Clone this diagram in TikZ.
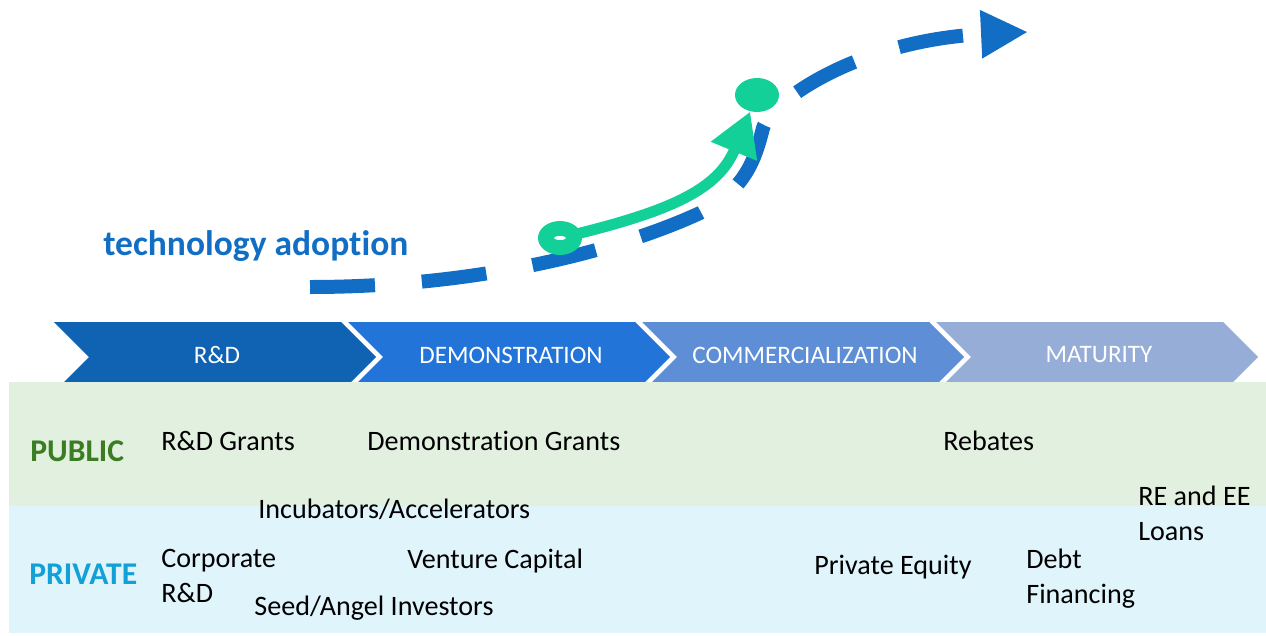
\documentclass[tikz,border=0pt]{standalone}
\usepackage{fontspec}
\setmainfont[Ligatures=NoCommon]{Carlito}
\usetikzlibrary{arrows.meta,shapes.geometric}
\definecolor{rdblue}{RGB}{16,99,179}
\definecolor{demoblue}{RGB}{34,116,216}
\definecolor{commblue}{RGB}{93,142,214}
\definecolor{matblue}{RGB}{150,173,216}
\definecolor{publicbg}{RGB}{226,240,224}
\definecolor{privatebg}{RGB}{224,244,252}
\definecolor{curveblue}{RGB}{17,110,196}
\definecolor{adoptgreen}{RGB}{18,208,152}
\definecolor{publicgreen}{RGB}{58,125,34}
\definecolor{privatecyan}{RGB}{18,160,215}
\tikzset{
  phase/.style={text=white,inner sep=0pt,font=\fontsize{14.3}{17}\selectfont},
  fund/.style={anchor=base west,inner sep=0pt,align=left,font=\fontsize{16}{19.5}\selectfont},
  sector/.style={anchor=base west,inner sep=0pt,font=\fontsize{18}{22}\selectfont\bfseries},
  adopttitle/.style={anchor=base west,inner sep=0pt,text=curveblue,font=\fontsize{20.2}{24}\selectfont\bfseries},
  adoptcurve/.style={draw=curveblue,line width=0.28cm,dash pattern=on 1.3cm off 0.94cm,
    -{Triangle[length=0.94cm,width=0.9cm]}},
  adoptarrow/.style={draw=adoptgreen,line width=0.22cm,-{Triangle[length=0.86cm,width=0.94cm]}},
  adoptdot/.style={ellipse,fill=adoptgreen,minimum width=0.88cm,minimum height=0.68cm,inner sep=0pt}
}
\begin{document}
\begin{tikzpicture}[x=0.02cm,y=-0.02cm]
\useasboundingbox (0,0) rectangle (1266,635);

% stages
\foreach \i/\stage/\col in {0/R\&D/rdblue,1/DEMONSTRATION/demoblue,2/COMMERCIALIZATION/commblue,3/MATURITY/matblue}{
  \pgfmathsetmacro\xl{54+294*\i}
  \fill[\col] (\xl,322) -- ++(287,0) -- ++(35,35) -- ++(-35,35) -- ++(-287,0) -- ++(35,-35) -- cycle;
  \node[phase] (stage\i) at (\xl+163,355) {\stage};
}

% funding bands
\fill[publicbg] (9,382) rectangle (1266,506);
\fill[privatebg] (9,506) rectangle (1266,633);

\node[sector,text=publicgreen] (public) at (30,461) {PUBLIC};
\node[sector,text=privatecyan] (private) at (29,584) {PRIVATE};

% base of a two-line label = its last line
\node[fund] (rdgrants) at (161,450) {R\&D Grants};
\node[fund] (demogrants) at (367,450) {Demonstration Grants};
\node[fund] (rebates) at (943,450) {Rebates};
\node[fund] (incubators) at (258,518) {Incubators/Accelerators};
\node[fund] (corporate) at (161,602) {Corporate\\R\&D};
\node[fund] (venture) at (407,568) {Venture Capital};
\node[fund] (seed) at (254,615) {Seed/Angel Investors};
\node[fund] (equity) at (814,574) {Private Equity};
\node[fund] (debt) at (1026,603) {Debt\\Financing};
\node[fund] (loans) at (1138,540) {RE and EE\\Loans};

% adoption curve
\node[adopttitle] (adoption) at (103,255) {technology adoption};
\coordinate (curvestart) at (310,287);
\coordinate (curvemid) at (700,213);
\coordinate (curvebend) at (763,128);
\coordinate (curveend) at (1028,32);
\draw[adoptcurve] (curvestart) .. controls (480,287) and (620,250) .. (curvemid)
  .. controls (745,190) and (755,160) .. (curvebend)
  .. controls (772,100) and (860,40) .. (curveend);

\node[adoptdot] (gstart) at (560,238) {};
\node[adoptdot] (gend) at (757,95) {};
\draw[adoptarrow] (gstart.center) .. controls (670,212) and (718,190) .. (gend);
\fill[white] (gstart.center) ellipse [x radius=0.12cm,y radius=0.04cm];
\end{tikzpicture}
\end{document}
